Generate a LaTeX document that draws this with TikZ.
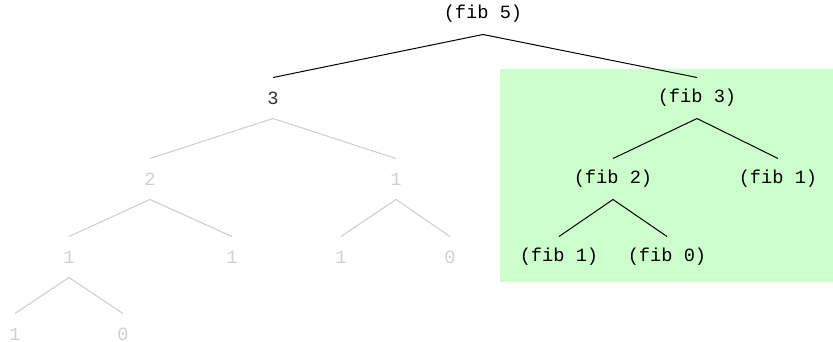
\documentclass[tikz,border=0pt]{standalone}
\usepackage{fontspec}
\setmonofont{Liberation Mono}
\usetikzlibrary{positioning}

\definecolor{callgreen}{HTML}{CCFFCC}
\definecolor{faded}{HTML}{D0D0D0}
\definecolor{fadedline}{HTML}{CCCCCC}

\begin{document}
\begin{tikzpicture}[x=0.75pt,y=-0.75pt,line width=0.75pt,every node/.style={font=\ttfamily\fontsize{14}{16}\selectfont,inner sep=0pt,minimum height=30pt},done/.style={text=faded},doneedge/.style={draw=fadedline},callnode/.style={text=black},calledge/.style={draw=black}]
      \useasboundingbox (0,0) rectangle (833,342);
      \fill[callgreen] (500,69) rectangle (833,282);
      % evaluated part of the tree
      \node[text=black!80] (v3) at (273,98) {3};
      \node[done] (v2) at (150,179) {2};
      \node[done] (v1a) at (396,179) {1};
      \node[done] (v1b) at (69,257) {1};
      \node[done] (v1c) at (232,257) {1};
      \node[done] (v1d) at (341,257) {1};
      \node[done] (v0a) at (450,257) {0};
      \node[done] (v1e) at (15,334) {1};
      \node[done] (v0b) at (123,334) {0};
      % pending calls
      \node[callnode] (f5) at (483,14) {(fib 5)};
      \node[callnode] (f3) at (697,98) {(fib 3)};
      \node[callnode] (f2) at (613,179) {(fib 2)};
      \node[callnode] (f1a) at (778,179) {(fib 1)};
      \node[callnode] (f1b) at (559,257) {(fib 1)};
      \node[callnode] (f0) at (667,257) {(fib 0)};
      \draw[calledge] (f5.south)--(v3.north);
      \draw[calledge] (f5.south)--(f3.north);
      \draw[calledge] (f3.south)--(f2.north);
      \draw[calledge] (f3.south)--(f1a.north);
      \draw[calledge] (f2.south)--(f1b.north);
      \draw[calledge] (f2.south)--(f0.north);
      \draw[doneedge] (v3.south)--(v2.north);
      \draw[doneedge] (v3.south)--(v1a.north);
      \draw[doneedge] (v2.south)--(v1b.north);
      \draw[doneedge] (v2.south)--(v1c.north);
      \draw[doneedge] (v1a.south)--(v1d.north);
      \draw[doneedge] (v1a.south)--(v0a.north);
      \draw[doneedge] (v1b.south)--(v1e.north);
      \draw[doneedge] (v1b.south)--(v0b.north);
    \end{tikzpicture}
\end{document}
